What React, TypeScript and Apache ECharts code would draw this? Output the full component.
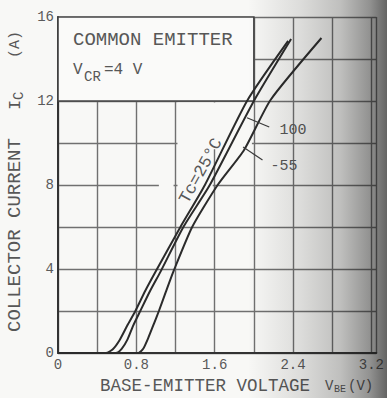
import React, { useEffect, useRef } from 'react';
import * as echarts from 'echarts';

// Tick labels
const xTickLabels = [0, 0.8, 1.6, 2.4, 3.2];
const yTickLabels = [0, 4, 8, 12, 16];

// Tc = 25 °C curve (V_BE in V, I_C in A)
const vbe25 = [0, 0.49, 0.56, 0.63, 0.71, 0.79, 0.89, 1.0, 1.25, 1.5, 1.93, 2.35];
const ic25 = [0, 0, 0.18, 0.62, 1.33, 2.0, 2.95, 3.9, 6.0, 8.0, 12.0, 14.86];

// Tc = 100 °C curve
const vbe100 = [0, 0.59, 0.65, 0.71, 0.77, 0.84, 0.94, 1.05, 1.28, 1.55, 2.0, 2.38];
const ic100 = [0, 0, 0.2, 0.65, 1.33, 2.0, 2.95, 3.9, 6.0, 8.0, 12.0, 14.95];

// Tc = -55 °C curve
const vbeM55 = [0, 0.82, 0.87, 0.92, 0.98, 1.03, 1.1, 1.18, 1.37, 1.63, 1.9, 2.17, 2.69];
const icM55 = [0, 0, 0.2, 0.7, 1.4, 2.0, 2.9, 3.9, 6.0, 8.0, 9.67, 12.05, 15.0];

export default function App() {
  const ref = useRef<HTMLDivElement>(null);

  useEffect(() => {
    const chart = echarts.init(ref.current!, null, { renderer: 'svg' });
    const mono = '"Liberation Mono", "DejaVu Sans Mono", monospace';
    const txt = '#575757';
    const bg = '#f8f8f6';
    const zip = (xs: number[], ys: number[]) => xs.map((x, i) => [x, ys[i]]);
    const curveLine = { color: '#2b2b2b', width: 2 };
    const arrowLine = { type: 'solid', color: '#3a3a3a', width: 1.2 };
    const isTick = (arr: number[], v: number) => arr.some((t) => Math.abs(t - v) < 1e-6);

    const text = (
      s: string,
      x: number,
      y: number,
      size: number,
      align = 'left',
      rotation = 0,
      color = txt
    ) => ({
      type: 'text',
      x,
      y,
      rotation,
      silent: true,
      z: 50,
      style: {
        text: s,
        x: 0,
        y: 0,
        font: `${size}px ${mono}`,
        fill: color,
        align,
        textAlign: align,
        verticalAlign: 'middle',
        textVerticalAlign: 'middle',
      },
    });

    const option: any = {
      animation: false,
      backgroundColor: bg,
      grid: { left: 58, top: 17, width: 332, height: 336 },
      xAxis: {
        type: 'value',
        min: 0,
        max: 3.25,
        interval: 0.4,
        axisLine: { show: true, onZero: false, lineStyle: { color: '#333', width: 2 } },
        axisTick: { show: false },
        splitLine: { show: true, lineStyle: { color: '#707070', width: 1.4 } },
        axisLabel: {
          margin: 5,
          color: '#5a5a5a',
          fontFamily: mono,
          fontSize: 14,
          formatter: (v: number) => (isTick(xTickLabels, v) ? (v === 0 ? '0' : v.toFixed(1)) : ''),
        },
      },
      yAxis: {
        type: 'value',
        min: 0,
        max: 16,
        interval: 2,
        axisLine: { show: true, onZero: false, lineStyle: { color: '#333', width: 2 } },
        axisTick: { show: false },
        splitLine: { show: true, lineStyle: { color: '#707070', width: 1.4 } },
        axisLabel: {
          margin: 4,
          color: '#5a5a5a',
          fontFamily: mono,
          fontSize: 14,
          formatter: (v: number) => (isTick(yTickLabels, v) ? String(v) : ''),
        },
      },
      series: [
        {
          type: 'line',
          data: [],
          z: 1,
          silent: true,
          markArea: {
            silent: true,
            itemStyle: { color: bg, borderWidth: 0 },
            data: [
              [
                { coord: [0, 12], itemStyle: { color: '#fafaf9', borderColor: '#444', borderWidth: 1.6 } },
                { coord: [2.0, 16] },
              ],
              [{ coord: [1.22, 9.7] }, { coord: [1.98, 11.93] }],
              [{ coord: [1.03, 7.85] }, { coord: [1.18, 8.15] }],
              [{ coord: [1.22, 7.85] }, { coord: [1.58, 8.15] }],
            ],
          },
        },
        {
          name: '25',
          type: 'line',
          z: 3,
          data: zip(vbe25, ic25),
          showSymbol: false,
          smooth: 0.2,
          lineStyle: curveLine,
          silent: true,
        },
        {
          name: '100',
          type: 'line',
          z: 3,
          data: zip(vbe100, ic100),
          showSymbol: false,
          smooth: 0.2,
          lineStyle: curveLine,
          silent: true,
          markLine: {
            silent: true,
            symbol: ['none', 'none'],
            label: { show: false },
            lineStyle: arrowLine,
            data: [[{ coord: [2.157, 10.76] }, { coord: [1.93, 11.2] }]],
          },
        },
        {
          name: '-55',
          type: 'line',
          z: 3,
          data: zip(vbeM55, icM55),
          showSymbol: false,
          smooth: 0.2,
          lineStyle: curveLine,
          silent: true,
          markLine: {
            silent: true,
            symbol: ['none', 'none'],
            label: { show: false },
            lineStyle: arrowLine,
            data: [[{ coord: [2.088, 9.19] }, { coord: [1.89, 9.81] }]],
          },
        },
      ],
      graphic: {
        elements: [
          text('COMMON EMITTER', 73, 40, 19),
          text('V', 73, 70, 16),
          text('CR', 84, 77, 14),
          text('=4 V', 104, 70, 16),
          text('Tc=25\u00b0C', 201, 171, 17, 'center', (61 * Math.PI) / 180),
          text('100', 293, 130, 15, 'center'),
          text('-55', 284, 166, 15, 'center'),
          text('COLLECTOR CURRENT', 15, 332, 19, 'left', Math.PI / 2),
          text('I', 15, 110, 17, 'left', Math.PI / 2),
          text('C', 19, 100, 14, 'left', Math.PI / 2),
          text('(A)', 15, 58, 15, 'left', Math.PI / 2),
          text('BASE-EMITTER VOLTAGE', 100, 386, 17.5),
          text('V', 325, 386, 14),
          text('BE', 334, 389, 10),
          text('(V)', 348, 386, 14),
          {
            type: 'rect',
            silent: true,
            z: 100,
            shape: { x: 0, y: 0, width: 387, height: 398 },
            style: {
              fill: new echarts.graphic.LinearGradient(0, 0, 1, 0, [
                { offset: 0, color: 'rgba(20,20,20,0)' },
                { offset: 0.64, color: 'rgba(20,20,20,0)' },
                { offset: 0.775, color: 'rgba(20,20,20,0.12)' },
                { offset: 0.88, color: 'rgba(20,20,20,0.25)' },
                { offset: 0.956, color: 'rgba(20,20,20,0.45)' },
                { offset: 1, color: 'rgba(20,20,20,0.65)' },
              ]),
            },
          },
        ],
      },
    };

    chart.setOption(option);
    return () => chart.dispose();
  }, []);

  return (
    <div
      ref={ref}
      style={{ position: 'fixed', left: 0, top: 0, width: 387, height: 398 }}
    />
  );
}
